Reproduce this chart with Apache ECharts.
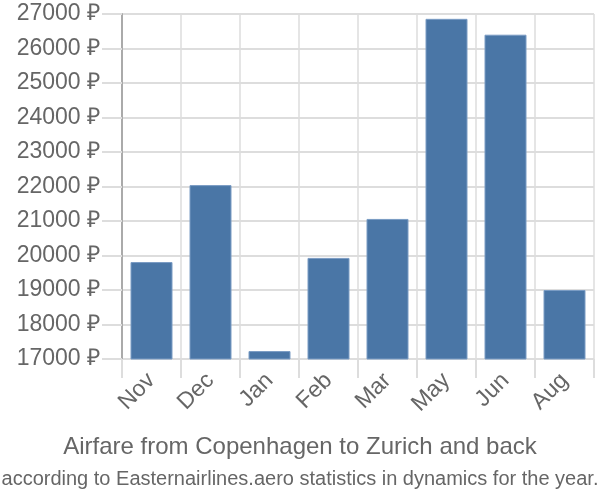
<!DOCTYPE html>
<html>
<head>
<meta charset="utf-8">
<script src="https://cdn.jsdelivr.net/npm/echarts@6/dist/echarts.min.js"></script>
<style>html,body{margin:0;padding:0;background:#fff}#c{width:600px;height:500px}</style>
</head>
<body>
<div id="c"></div>
<script>
var categories = ['Nov', 'Dec', 'Jan', 'Feb', 'Mar', 'May', 'Jun', 'Aug'];
var prices = [19810, 22040, 17230, 19930, 21060, 26860, 26400, 19000];
var titleText = 'Airfare from Copenhagen to Zurich and back';
var subText = 'according to Easternairlines.aero statistics in dynamics for the year.';

var chart = echarts.init(document.getElementById('c'));
chart.setOption({
  animation: false,
  textStyle: { fontFamily: 'Liberation Sans, Arial, sans-serif' },
  title: [
    { text: titleText, left: 'center', top: 430,
      textStyle: { fontSize: 24, fontWeight: 'normal', color: '#666', fontFamily: 'Liberation Sans, Arial, sans-serif' } },
    { text: subText, left: 'center', top: 464,
      textStyle: { fontSize: 20, fontWeight: 'normal', color: '#666', fontFamily: 'Liberation Sans, Arial, sans-serif' } }
  ],
  grid: { left: 122, right: 6, top: 14, bottom: 141, containLabel: false },
  xAxis: {
    type: 'category',
    data: categories,
    boundaryGap: true,
    axisLine: { show: true, lineStyle: { color: '#ddd', width: 1 } },
    axisTick: { show: true, length: 19, lineStyle: { color: '#ddd', width: 2 } },
    splitLine: { show: true, lineStyle: { color: '#ddd', width: 1.5 } },
    axisLabel: { rotate: 45, fontSize: 23, color: '#666', margin: 18 }
  },
  yAxis: {
    type: 'value',
    min: 17000, max: 27000, interval: 1000,
    axisLine: { show: true, lineStyle: { color: '#aaa', width: 2 } },
    axisTick: { show: true, length: 20, lineStyle: { color: '#ddd', width: 2 } },
    splitLine: { show: true, lineStyle: { color: '#ddd', width: 2 } },
    axisLabel: { fontSize: 23, color: '#666', margin: 22, formatter: function (v) { return v + ' ₽'; } }
  },
  series: [{
    type: 'bar',
    data: prices,
    barWidth: 42,
    itemStyle: { color: '#4a76a6', borderColor: '#7a9cc4', borderWidth: 1 }
  }]
});
</script>
</body>
</html>
